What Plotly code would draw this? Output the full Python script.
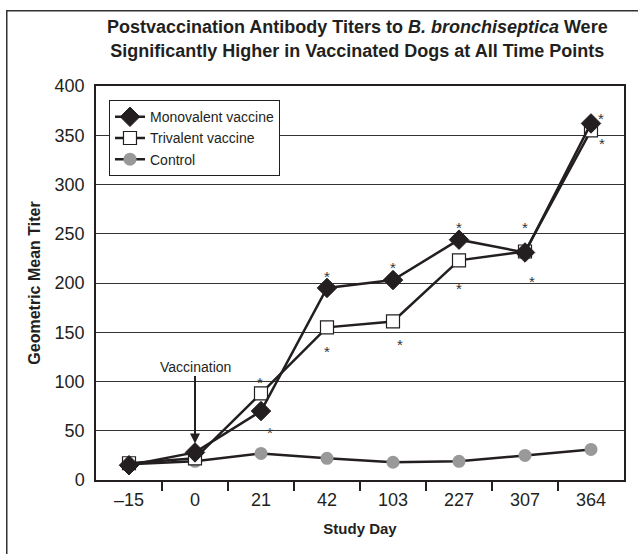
import plotly.graph_objects as go

days = ["\u201315", "0", "21", "42", "103", "227", "307", "364"]
monovalent = [15, 28, 70, 195, 203, 244, 231, 362]
trivalent = [17, 22, 88, 155, 161, 223, 232, 355]
control = [16, 19, 27, 22, 18, 19, 25, 31]

# significance asterisks: (day index, y value, xshift, yshift)
stars = [(2, 88, -1, 11), (2, 70, 9, -21),
         (3, 195, 0, 11), (3, 155, 0, -24),
         (4, 203, 0, 13), (4, 161, 7, -23),
         (5, 244, 0, 12), (5, 223, 0, -28),
         (6, 232, 0, 24), (6, 231, 7, -29),
         (7, 362, 10, 5), (7, 355, 11, -13)]

FONT = "Liberation Sans, Arial, sans-serif"
INK = "#231f20"
xpos = list(range(len(days)))

fig = go.Figure()
fig.add_trace(go.Scatter(x=xpos, y=control, name="Control", mode="lines+markers", legendrank=3,
                         line=dict(color=INK, width=2.5),
                         marker=dict(symbol="circle", size=13, color="#999999", line=dict(width=0))))
fig.add_trace(go.Scatter(x=xpos, y=trivalent, name="Trivalent vaccine", mode="lines+markers", legendrank=2,
                         line=dict(color=INK, width=2.5),
                         marker=dict(symbol="square", size=13, color="white", line=dict(color=INK, width=1.2))))
fig.add_trace(go.Scatter(x=xpos, y=monovalent, name="Monovalent vaccine", mode="lines+markers", legendrank=1,
                         line=dict(color=INK, width=2.5),
                         marker=dict(symbol="diamond", size=15, color=INK, line=dict(color=INK, width=1))))

ann = []
for i, y, xs, ys in stars:
    ann.append(dict(x=xpos[i], y=y, text="*", showarrow=False, xshift=xs, yshift=ys,
                    font=dict(family=FONT, size=15, color="#333")))
ann.append(dict(x=xpos[1], y=37, text="Vaccination", showarrow=True, arrowhead=2, arrowsize=1,
                arrowwidth=2, arrowcolor=INK, ax=0, ay=-77, standoff=0,
                font=dict(family=FONT, size=14, color=INK)))

fig.update_layout(
    width=638, height=554,
    margin=dict(l=96, r=14, t=86, b=74),
    paper_bgcolor="white", plot_bgcolor="white",
    font=dict(family=FONT, color=INK),
    title=dict(text="<b>Postvaccination Antibody Titers to <i>B. bronchiseptica</i> Were<br>Significantly Higher in Vaccinated Dogs at All Time Points</b>",
               x=0.56, xanchor="center", y=0.940, yanchor="middle",
               font=dict(family=FONT, size=18, color=INK)),
    showlegend=True,
    legend=dict(x=0.0246, y=0.964, xanchor="left", yanchor="top", traceorder="normal",
                bordercolor=INK, borderwidth=1, bgcolor="white",
                font=dict(family=FONT, size=14, color=INK),
                tracegroupgap=0, itemwidth=30),
    annotations=ann,
    shapes=[dict(type="rect", xref="paper", yref="paper", x0=-0.169, x1=1.06, y0=-0.25, y1=1.191,
                 line=dict(color="#333", width=1.5), fillcolor="rgba(0,0,0,0)", layer="below")],
)
fig.update_xaxes(range=[-0.5, 7.5], tickmode="array", tickvals=xpos, ticktext=days,
                 showline=True, linecolor=INK, linewidth=1.5, mirror=True,
                 ticks="outside", ticklen=3, tickcolor="rgba(0,0,0,0)",
                 minor=dict(tickmode="array", tickvals=[p + 0.5 for p in xpos[:-1]], ticks="outside",
                            ticklen=9, tickcolor=INK, tickwidth=1.5, showgrid=False),
                 showgrid=False, zeroline=False, tickfont=dict(family=FONT, size=18),
                 title=dict(text="<b>Study Day</b>", font=dict(family=FONT, size=15), standoff=14))
fig.update_yaxes(range=[0, 400], dtick=50, showline=True, linecolor=INK, linewidth=1.5, mirror=True,
                 showgrid=True, gridcolor="#333", gridwidth=1, zeroline=False,
                 ticks="outside", ticklen=6, tickcolor="rgba(0,0,0,0)",
                 tickfont=dict(family=FONT, size=18),
                 title=dict(text="<b>Geometric Mean Titer</b>", font=dict(family=FONT, size=16), standoff=10))

fig.write_html("out.html", config={"displayModeBar": False},
               post_script="document.body.style.margin='0';")
